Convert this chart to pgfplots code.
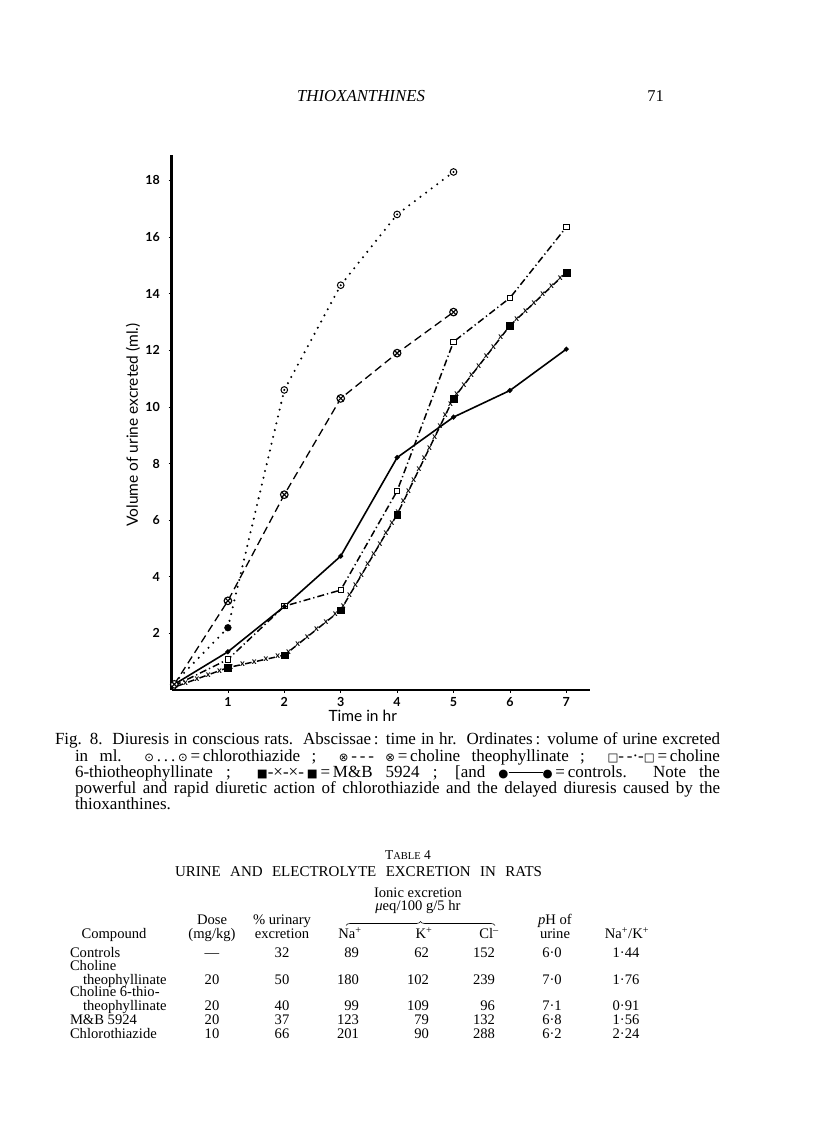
\documentclass[border=0pt]{standalone}
\usepackage{fontspec}
\setmainfont{Liberation Serif}
\newfontfamily\lato{Lato}
\newfontfamily\sym{DejaVu Sans}
\usepackage{pgfplots}
\pgfplotsset{compat=1.18}
\usetikzlibrary{decorations.markings,decorations.pathreplacing,plotmarks}

\pgfdeclareplotmark{odot}{%
  \pgfscope
  \pgfpathcircle{\pgfpointorigin}{\pgfplotmarksize}%
  \pgfusepathqfillstroke
  \pgfsetfillcolor{black}%
  \pgfpathcircle{\pgfpointorigin}{0.35\pgfplotmarksize}%
  \pgfusepathqfill
  \endpgfscope}

\newcommand{\tx}[4][base]{\node[anchor=#1,inner sep=0pt,outer sep=0pt] at (#2pt,1142pt-#3pt) {#4};}
\newcommand{\sy}[1]{{\sym\fontsize{11.5}{11.5}\selectfont #1}}
\newcommand{\tf}{\fontsize{14.6}{14.6}\selectfont}

\begin{document}
\begin{tikzpicture}
\fill[white] (0pt,0pt) rectangle (816pt,1142pt);
\path[use as bounding box] (0pt,0pt) rectangle (816pt,1142pt);

% running head
\tx{361}{101.7}{\fontsize{16.8}{17}\selectfont\itshape THIOXANTHINES}
\tx{655.5}{101.7}{\fontsize{16.5}{17}\selectfont 71}

\begin{axis}[
  at={(171.5pt,452pt)}, anchor=south west, scale only axis,
  width=418.5pt, height=535pt,
  xmin=0, xmax=7.42, ymin=0, ymax=18.9,
  axis x line=bottom, axis y line=left,
  axis line style={-},
  x axis line style={line width=1.6pt},
  y axis line style={line width=2.2pt},
  xtick={1,...,7}, ytick={2,4,...,18},
  tick align=outside, major tick length=3pt,
  tick style={line width=0.8pt, black},
  /pgf/number format/assume math mode=true,
  ticklabel style={font=\lato\bfseries\fontsize{12.5}{12.5}\selectfont},
  yticklabel style={xshift=-5pt},
  xticklabel style={yshift=-1pt},
  clip=false,
]
% chlorothiazide (dotted)
\addplot[black, line width=2.3pt, line cap=round, dash pattern=on 0pt off 7pt,
  mark=odot, mark size=3.3pt, mark indices={3,4,5,6},
  mark options={solid, line width=1pt, fill=white}]
  coordinates {(0.05,0.25) (1,2.2) (2,10.6) (3,14.3) (4,16.8) (5,18.3)};
\addplot[only marks, mark=*, mark size=3.4pt, black]
  coordinates {(1,2.2)};
% choline theophyllinate (dashed)
\addplot[black, line width=1.3pt, dash pattern=on 8pt off 4.5pt,
  mark=otimes*, mark size=3.8pt,
  mark options={solid, line width=1.1pt, fill=white}]
  coordinates {(0.05,0.2) (1,3.15) (2,6.9) (3,10.3) (4,11.9) (5,13.35)};
% choline 6-thiotheophyllinate (dash-dot)
\addplot[black, line width=1.5pt, dash pattern=on 7pt off 3pt on 1.3pt off 3pt,
  mark=square*, mark size=2.7pt, mark indices={2,3,4,5,6,7,8},
  mark options={solid, line width=1pt, fill=white}]
  coordinates {(0.05,0.15) (1,1.08) (2,2.96) (3,3.53) (4,7.03) (5,12.3) (6,13.85) (7,16.35)};
% M&B 5924 (dash x dash)
\addplot[black, line width=1.5pt, dash pattern=on 6.5pt off 5.5pt, dash phase=9.25pt,
  postaction={decorate},
  decoration={markings, mark=between positions 0 and 1 step 12pt with
    {\node[inner sep=0pt, font=\lato\bfseries\fontsize{9}{9}\selectfont]{x};}}]
  coordinates {(0.05,0.1) (1,0.79) (2,1.23) (3,2.82) (4,6.2) (5,10.3) (6,12.87) (7,14.75)};
\addplot[only marks, mark=square*, mark size=3.4pt, black, mark indices={2,3,4,5,6,7,8}]
  coordinates {(0.05,0.1) (1,0.79) (2,1.23) (3,2.82) (4,6.2) (5,10.3) (6,12.87) (7,14.75)};
% controls (solid)
\addplot[black, line width=1.6pt, mark=*, mark size=1.6pt, mark indices={2,3,4,5,6,7,8}]
  coordinates {(0.05,0.2) (1,1.35) (2,2.95) (3,4.73) (4,8.21) (5,9.64) (6,10.58) (7,12.04)};
\end{axis}

% axis titles
\node[rotate=90, inner sep=0pt, font=\lato\fontsize{15.5}{15.5}\selectfont] at (133pt,1142pt-425pt) {Volume of urine excreted (ml.)};
\node[inner sep=0pt, font=\lato\fontsize{15.5}{15.5}\selectfont] at (362.7pt,1142pt-716pt) {Time in hr};

% caption
\begin{scope}[font=\fontsize{17}{17}\selectfont]
\tx[base west]{55}{745}{\makebox[665pt][s]{Fig. 8.\ \ Diuresis in conscious rats.\ \ Abscissae\,: time in hr.\ \ Ordinates\,: volume of urine excreted}}
\tx[base west]{75}{761.3}{\makebox[645pt][s]{in ml.\ \ \sy{⊙}\,.\,.\,.\,\sy{⊙}\,=\,chlorothiazide ;\ \ \sy{⊗}\,-\,-\,-\ \sy{⊗}\,=\,choline theophyllinate ;\ \ \sy{□}-\,-·-\sy{□}\,=\,choline}}
\tx[base west]{75}{777.5}{\makebox[645pt][s]{6-thiotheophyllinate ;\ \ \sy{■}-×-×-\,\sy{■}\,=\,M\&B 5924 ; [and \sy{●}\rule[0.28em]{34pt}{0.7pt}\sy{●}\,=\,controls.\ \ Note the}}
\tx[base west]{75}{793.5}{\makebox[645pt][s]{powerful and rapid diuretic action of chlorothiazide and the delayed diuresis caused by the}}
\tx[base west]{75}{809.7}{thioxanthines.}
\end{scope}

% table
\tx{408}{860}{\fontsize{13.5}{14}\selectfont T{\fontsize{10.5}{11}\selectfont ABLE} 4}
\tx{358.5}{877}{\fontsize{15}{15}\selectfont\makebox[367pt][s]{URINE AND ELECTROLYTE EXCRETION IN RATS}}
\begin{scope}[font=\tf]
\tx{418}{897.5}{Ionic excretion}
\tx{418}{911}{{\itshape μ}eq/100 g/5 hr}
\draw[line width=0.6pt, decorate, decoration={brace, amplitude=4pt}] (346pt,1142pt-925.5pt) -- (495pt,1142pt-925.5pt);
\tx{212}{925}{Dose}
\tx{212}{939}{(mg/kg)}
\tx{282}{925}{\% urinary}
\tx{282}{939}{excretion}
\tx{114}{939}{Compound}
\tx{350}{939}{Na\textsuperscript{+}}
\tx{424}{939}{K\textsuperscript{+}}
\tx{489}{939}{Cl\textsuperscript{–}}
\tx{555}{925}{{\itshape p}H of}
\tx{555}{939}{urine}
\tx{627}{939}{Na\textsuperscript{+}/K\textsuperscript{+}}
% rows
\tx[base west]{70}{958}{Controls}
\tx[base west]{70}{970.5}{Choline}
\tx[base west]{83}{984.5}{theophyllinate}
\tx[base west]{70}{997}{Choline 6-thio-}
\tx[base west]{83}{1011}{theophyllinate}
\tx[base west]{70}{1025}{M\&B 5924}
\tx[base west]{70}{1038.5}{Chlorothiazide}
% Dose
\tx{212}{958}{—}
\tx{212}{984.5}{20}
\tx{212}{1011}{20}
\tx{212}{1025}{20}
\tx{212}{1038.5}{10}
% % urinary
\tx{282}{958}{32}
\tx{282}{984.5}{50}
\tx{282}{1011}{40}
\tx{282}{1025}{37}
\tx{282}{1038.5}{66}
% Na
\tx[base east]{359}{958}{89}
\tx[base east]{359}{984.5}{180}
\tx[base east]{359}{1011}{99}
\tx[base east]{359}{1025}{123}
\tx[base east]{359}{1038.5}{201}
% K
\tx[base east]{429}{958}{62}
\tx[base east]{429}{984.5}{102}
\tx[base east]{429}{1011}{109}
\tx[base east]{429}{1025}{79}
\tx[base east]{429}{1038.5}{90}
% Cl
\tx[base east]{495}{958}{152}
\tx[base east]{495}{984.5}{239}
\tx[base east]{495}{1011}{96}
\tx[base east]{495}{1025}{132}
\tx[base east]{495}{1038.5}{288}
% pH
\tx{552}{958}{6·0}
\tx{552}{984.5}{7·0}
\tx{552}{1011}{7·1}
\tx{552}{1025}{6·8}
\tx{552}{1038.5}{6·2}
% Na/K
\tx{626}{958}{1·44}
\tx{626}{984.5}{1·76}
\tx{626}{1011}{0·91}
\tx{626}{1025}{1·56}
\tx{626}{1038.5}{2·24}
\end{scope}
\end{tikzpicture}
\end{document}
